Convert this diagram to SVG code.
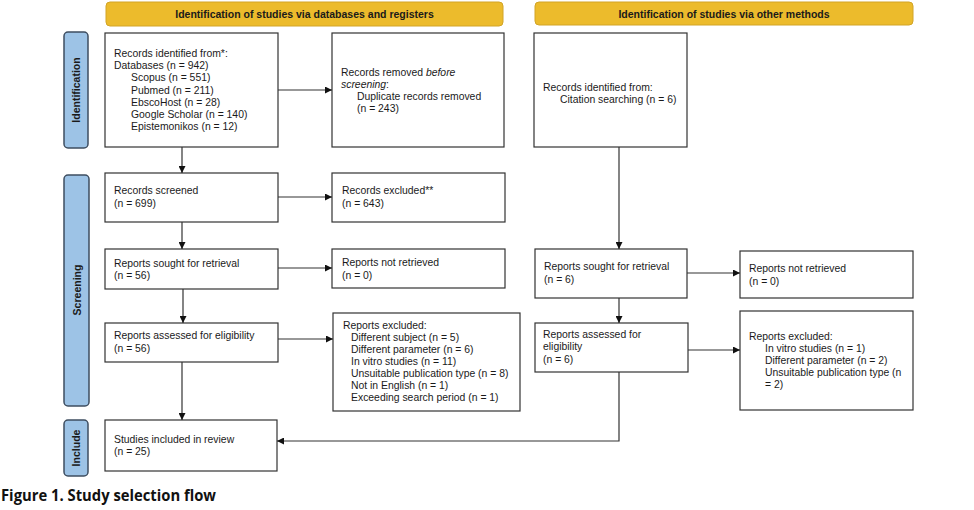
<svg xmlns="http://www.w3.org/2000/svg" width="974" height="510" viewBox="0 0 974 510">
<style>
.box{fill:#fff;stroke:#333;stroke-width:1.2}
.hdr{fill:#ECBB2C;stroke:#D2A426;stroke-width:1}
.side{fill:#9DC3E6;stroke:#3E4E60;stroke-width:1.5}
.t{font-family:"Liberation Sans",Arial,sans-serif;font-size:10.4px;fill:#1a1a1a}
.h{font-family:"Liberation Sans",Arial,sans-serif;font-size:10.5px;font-weight:bold;fill:#1a1a1a}
.s{font-family:"Liberation Sans",Arial,sans-serif;font-size:10.5px;font-weight:bold;fill:#1a1a1a}
.con{fill:none;stroke:#333;stroke-width:1.2}
.cap{font-family:"Open Sans","Noto Sans",sans-serif;font-size:16px;font-weight:bold;fill:#111}
</style>
<defs>
<marker id="ah" viewBox="0 0 10 10" refX="10" refY="5" markerWidth="7" markerHeight="7" markerUnits="userSpaceOnUse" orient="auto">
<path d="M0 0 L10 5 L0 10 z" fill="#111"/>
</marker>
</defs>
<rect width="974" height="510" fill="#fff"/>

<g id="header-databases">
<rect class="hdr" x="106" y="2" width="397" height="24" rx="4"/>
<text class="h" x="304.5" y="18" text-anchor="middle">Identification of studies via databases and registers</text>
</g>
<g id="header-other">
<rect class="hdr" x="535" y="2" width="378" height="23" rx="4"/>
<text class="h" x="724" y="17.5" text-anchor="middle">Identification of studies via other methods</text>
</g>

<g id="side-identification">
<rect class="side" x="64" y="32" width="24" height="116" rx="4"/>
<text class="s" transform="translate(80 90) rotate(-90)" text-anchor="middle">Identification</text>
</g>
<g id="side-screening">
<rect class="side" x="64" y="175" width="25" height="231" rx="4"/>
<text class="s" transform="translate(80.5 290) rotate(-90)" text-anchor="middle">Screening</text>
</g>
<g id="side-include">
<rect class="side" x="64" y="420" width="24" height="56" rx="4"/>
<text class="s" transform="translate(80 448) rotate(-90)" text-anchor="middle">Include</text>
</g>

<g id="records-identified">
<rect class="box" x="105" y="33" width="173" height="114"/>
<text class="t" x="114" y="57">Records identified from*:</text>
<text class="t" x="114" y="69.2">Databases (n = 942)</text>
<text class="t" x="131" y="81.4">Scopus (n = 551)</text>
<text class="t" x="131" y="93.6">Pubmed (n = 211)</text>
<text class="t" x="131" y="105.8">EbscoHost (n = 28)</text>
<text class="t" x="131" y="118">Google Scholar (n = 140)</text>
<text class="t" x="131" y="130.2">Epistemonikos (n = 12)</text>
</g>
<g id="records-removed">
<rect class="box" x="332" y="33" width="172" height="114"/>
<text class="t" x="341" y="76">Records removed <tspan font-style="italic">before</tspan></text>
<text class="t" x="341" y="88"><tspan font-style="italic">screening</tspan>:</text>
<text class="t" x="357" y="100">Duplicate records removed</text>
<text class="t" x="357" y="112">(n = 243)</text>
</g>
<g id="citation">
<rect class="box" x="534" y="33" width="153" height="114"/>
<text class="t" x="543" y="91">Records identified from:</text>
<text class="t" x="560" y="103">Citation searching (n = 6)</text>
</g>

<g id="records-screened">
<rect class="box" x="105" y="173" width="173" height="49"/>
<text class="t" x="114" y="194">Records screened</text>
<text class="t" x="114" y="207">(n = 699)</text>
</g>
<g id="records-excluded">
<rect class="box" x="332" y="173" width="173" height="49"/>
<text class="t" x="342" y="194">Records excluded**</text>
<text class="t" x="342" y="207">(n = 643)</text>
</g>

<g id="reports-sought">
<rect class="box" x="105" y="249" width="173" height="40"/>
<text class="t" x="114" y="267">Reports sought for retrieval</text>
<text class="t" x="114" y="279">(n = 56)</text>
</g>
<g id="reports-not-retrieved">
<rect class="box" x="332" y="249" width="173" height="39"/>
<text class="t" x="342" y="266">Reports not retrieved</text>
<text class="t" x="342" y="278.5">(n = 0)</text>
</g>
<g id="reports-sought-other">
<rect class="box" x="535" y="249" width="152" height="49"/>
<text class="t" x="544" y="270">Reports sought for retrieval</text>
<text class="t" x="544" y="283">(n = 6)</text>
</g>
<g id="reports-not-retrieved-other">
<rect class="box" x="740" y="251" width="173" height="47"/>
<text class="t" x="749" y="272">Reports not retrieved</text>
<text class="t" x="749" y="285">(n = 0)</text>
</g>

<g id="reports-assessed">
<rect class="box" x="105" y="323" width="173" height="39"/>
<text class="t" x="114" y="339">Reports assessed for eligibility</text>
<text class="t" x="114" y="352">(n = 56)</text>
</g>
<g id="reports-excluded">
<rect class="box" x="333" y="313" width="187" height="98"/>
<text class="t" x="343" y="329">Reports excluded:</text>
<text class="t" x="351" y="341">Different subject (n = 5)</text>
<text class="t" x="351" y="353">Different parameter (n = 6)</text>
<text class="t" x="351" y="365">In vitro studies (n = 11)</text>
<text class="t" x="351" y="377">Unsuitable publication type (n = 8)</text>
<text class="t" x="351" y="389">Not in English (n = 1)</text>
<text class="t" x="351" y="401">Exceeding search period (n = 1)</text>
</g>
<g id="reports-assessed-other">
<rect class="box" x="535" y="323" width="153" height="49"/>
<text class="t" x="543" y="338">Reports assessed for</text>
<text class="t" x="543" y="350">eligibility</text>
<text class="t" x="543" y="362.5">(n = 6)</text>
</g>
<g id="reports-excluded-other">
<rect class="box" x="740" y="311" width="173" height="99"/>
<text class="t" x="749" y="340">Reports excluded:</text>
<text class="t" x="765" y="352">In vitro studies (n = 1)</text>
<text class="t" x="765" y="364">Different parameter (n = 2)</text>
<text class="t" x="765" y="376">Unsuitable publication type (n</text>
<text class="t" x="765" y="388">= 2)</text>
</g>

<g id="studies-included">
<rect class="box" x="105" y="420" width="172" height="51"/>
<text class="t" x="114" y="443">Studies included in review</text>
<text class="t" x="114" y="455">(n = 25)</text>
</g>

<g id="connectors">
<path class="con" d="M182 147 V173" marker-end="url(#ah)"/>
<path class="con" d="M278 90 H332" marker-end="url(#ah)"/>
<path class="con" d="M278 197 H332" marker-end="url(#ah)"/>
<path class="con" d="M182 222 V249" marker-end="url(#ah)"/>
<path class="con" d="M278 268 H332" marker-end="url(#ah)"/>
<path class="con" d="M183 289 V323" marker-end="url(#ah)"/>
<path class="con" d="M278 339 H333" marker-end="url(#ah)"/>
<path class="con" d="M182 362 V420" stroke="#555" marker-end="url(#ah)"/>
<path class="con" d="M619 147 V249" marker-end="url(#ah)"/>
<path class="con" d="M687 273 H740" marker-end="url(#ah)"/>
<path class="con" d="M619 298 V323" marker-end="url(#ah)"/>
<path class="con" d="M688 350 H740" marker-end="url(#ah)"/>
<path class="con" d="M619 372 V441 H277" stroke="#777" marker-end="url(#ah)"/>
</g>

<text class="cap" x="1" y="501" textLength="215" lengthAdjust="spacingAndGlyphs">Figure 1. Study selection flow</text>
</svg>
